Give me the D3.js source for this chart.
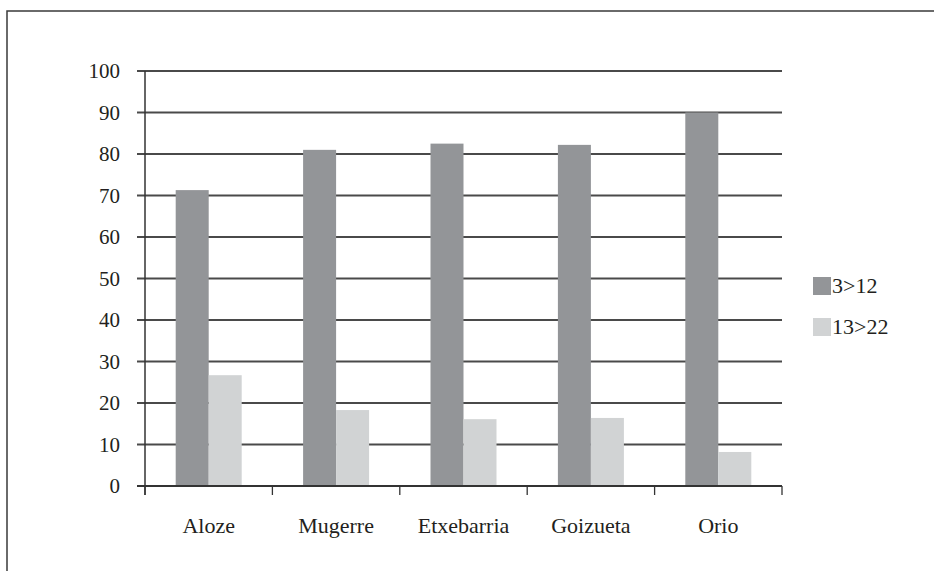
<!DOCTYPE html>
<html>
<head>
<meta charset="utf-8">
<script src="https://cdn.jsdelivr.net/npm/d3@7/dist/d3.min.js"></script>
<style>
  html, body { margin: 0; padding: 0; background: #fff; }
  svg { display: block; }
  .lab { font-family: "Liberation Serif", "Times New Roman", serif; fill: #231f20; }
</style>
</head>
<body>
<svg id="chart" width="934" height="571"></svg>
<script>
// Village names along the x axis
const categories = ["Aloze", "Mugerre", "Etxebarria", "Goizueta", "Orio"];
// Age groups shown in the legend
const seriesNames = ["3>12", "13>22"];
// Percent values per age group
const values3to12 = [71.3, 81.0, 82.5, 82.2, 90.0];
const values13to22 = [26.7, 18.3, 16.1, 16.4, 8.2];
// Y axis ticks
const yTicks = [0, 10, 20, 30, 40, 50, 60, 70, 80, 90, 100];

const colors = ["#939598", "#d1d3d4"];
const series = [values3to12, values13to22];

const svg = d3.select("#chart");

// Outer frame (runs past the right and bottom edges)
svg.append("rect")
  .attr("x", 7).attr("y", 11)
  .attr("width", 1000).attr("height", 700)
  .attr("fill", "none").attr("stroke", "#3a3a3a").attr("stroke-width", 1.5);

const plotLeft = 145, plotRight = 782, plotTop = 71, plotBottom = 486;

const x = d3.scaleBand().domain(categories).range([plotLeft, plotRight]).padding(0);
const y = d3.scaleLinear().domain([0, 100]).range([plotBottom, plotTop]);
const barW = 33;

// Horizontal gridlines with small ticks left of the axis
const grid = svg.append("g");
grid.selectAll("line").data(yTicks.filter(d => d > 0)).join("line")
  .attr("x1", plotLeft - 8).attr("x2", plotRight)
  .attr("y1", d => y(d)).attr("y2", d => y(d))
  .attr("stroke", "#4a4a4a").attr("stroke-width", 1.8);

// Bars
categories.forEach((c, i) => {
  const cx = x(c) + x.bandwidth() / 2;
  series.forEach((s, j) => {
    svg.append("rect")
      .attr("x", cx - barW + j * barW)
      .attr("y", y(s[i]))
      .attr("width", barW)
      .attr("height", y(0) - y(s[i]))
      .attr("fill", colors[j]);
  });
});

// Y axis line
svg.append("line")
  .attr("x1", plotLeft).attr("x2", plotLeft)
  .attr("y1", plotTop).attr("y2", plotBottom + 9)
  .attr("stroke", "#333").attr("stroke-width", 1.5);

// X axis line with category-boundary ticks
svg.append("line")
  .attr("x1", plotLeft - 8).attr("x2", plotRight)
  .attr("y1", plotBottom).attr("y2", plotBottom)
  .attr("stroke", "#333").attr("stroke-width", 1.8);
const bounds = categories.map(c => x(c)).concat([plotRight]);
svg.selectAll(".xtick").data(bounds).join("line")
  .attr("class", "xtick")
  .attr("x1", d => d).attr("x2", d => d)
  .attr("y1", plotBottom).attr("y2", plotBottom + 9)
  .attr("stroke", "#333").attr("stroke-width", 1.3);

// Y tick labels
svg.selectAll(".ylab").data(yTicks).join("text")
  .attr("class", "ylab lab")
  .attr("x", 120).attr("y", d => y(d))
  .attr("dy", "0.35em")
  .attr("text-anchor", "end")
  .attr("font-size", 21)
  .text(d => d);

// Category labels
svg.selectAll(".xlab").data(categories).join("text")
  .attr("class", "xlab lab")
  .attr("x", d => x(d) + x.bandwidth() / 2)
  .attr("y", 533)
  .attr("text-anchor", "middle")
  .attr("font-size", 22)
  .text(d => d);

// Legend
const legend = svg.append("g");
seriesNames.forEach((name, j) => {
  const ly = 277 + j * 41;
  legend.append("rect")
    .attr("x", 813).attr("y", ly)
    .attr("width", 18).attr("height", 18)
    .attr("fill", colors[j]);
  legend.append("text")
    .attr("class", "lab")
    .attr("x", 832).attr("y", ly + 16)
    .attr("font-size", 22)
    .text(name);
});
</script>
</body>
</html>
